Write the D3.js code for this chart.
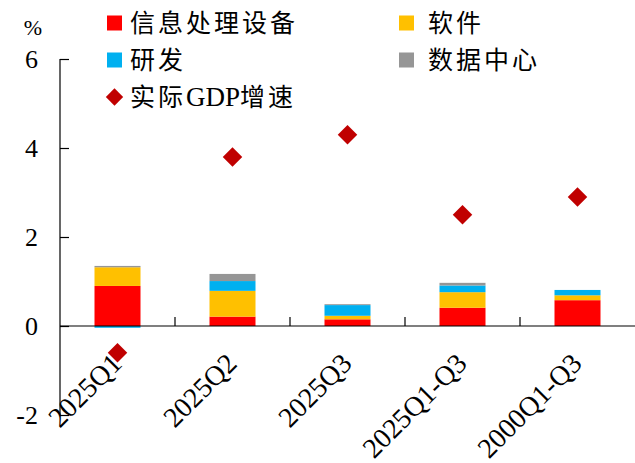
<!DOCTYPE html>
<html><head><meta charset="utf-8">
<script src="https://cdn.jsdelivr.net/npm/d3@7"></script>
<style>
html,body{margin:0;padding:0;background:#fff;}
svg{display:block;}
text{font-family:"Liberation Serif","Times New Roman","Noto Sans CJK SC",serif;}
</style></head>
<body>
<script>
const categories = ["2025Q1","2025Q2","2025Q3","2025Q1-Q3","2000Q1-Q3"];
const infoEquip = [0.90, 0.21, 0.15, 0.41, 0.58];
const software  = [0.42, 0.58, 0.08, 0.35, 0.11];
const rnd       = [-0.04, 0.22, 0.24, 0.15, 0.12];
const dataCenter= [0.03, 0.16, 0.02, 0.06, 0.00];
const gdp       = [-0.6, 3.8, 4.3, 2.5, 2.9];
const yTicks = [-2, 0, 2, 4, 6];
const seriesNames = ["信息处理设备","软件","研发","数据中心","实际GDP增速"];
const colors = ["#FF0000","#FFC000","#00B0F0","#969696","#C00000"];

const W = 635, H = 463;
const svg = d3.select("body").append("svg").attr("width", W).attr("height", H);

const x = d3.scaleBand().domain(categories).range([60, 635]).padding(0);
const y = d3.scaleLinear().domain([-2, 6]).range([415, 59]);

// stacked bars
const seriesVals = [infoEquip, software, rnd, dataCenter];
const barW = x.bandwidth() * 0.4;
categories.forEach((c, i) => {
  let pos = 0, neg = 0;
  seriesVals.forEach((arr, s) => {
    const v = arr[i];
    if (v === 0) return;
    let y0, y1;
    if (v > 0) { y0 = pos; y1 = pos + v; pos = y1; }
    else { y0 = neg; y1 = neg + v; neg = y1; }
    svg.append("rect")
      .attr("x", x(c) + x.bandwidth()/2 - barW/2)
      .attr("width", barW)
      .attr("y", y(Math.max(y0, y1)))
      .attr("height", Math.abs(y(y0) - y(y1)))
      .attr("fill", colors[s]);
  });
});

// y axis
const yAxis = d3.axisRight(y).tickValues(yTicks).tickSize(9).tickFormat("");
const gy = svg.append("g").attr("transform", "translate(60,0)").call(yAxis);
gy.select(".domain").attr("stroke", "#000").attr("stroke-width", 1.2).attr("d", `M0,${y(6)}V${y(-2)}`);
gy.selectAll(".tick line").attr("stroke", "#000").attr("stroke-width", 1.2);
svg.append("g").selectAll("text").data(yTicks).join("text")
  .attr("x", 38).attr("y", d => y(d)).attr("dy", "0.35em")
  .attr("text-anchor", "end").attr("font-size", 26).attr("fill", "#000")
  .text(d => d);
svg.append("text").attr("x", 33).attr("y", 35).attr("text-anchor", "middle")
  .attr("font-size", 22).text("%");

// x axis
const xAxis = d3.axisBottom(x).tickSize(0).tickFormat("");
const gx = svg.append("g").attr("transform", `translate(0,${y(0)})`).call(xAxis);
gx.select(".domain").attr("stroke", "#000").attr("stroke-width", 1.2).attr("d", `M60,0H635`);
const bounds = categories.slice(1).map(c => x(c));
svg.append("g").selectAll("line").data(bounds).join("line")
  .attr("x1", d => d).attr("x2", d => d)
  .attr("y1", y(0)).attr("y2", y(0) - 9)
  .attr("stroke", "#000").attr("stroke-width", 1.2);

// x labels rotated
svg.append("g").selectAll("text").data(categories).join("text")
  .attr("transform", d => `translate(${x(d) + x.bandwidth()/2 + 6},${y(0) + 39}) rotate(-45)`)
  .attr("text-anchor", "end")
  .attr("font-size", 28).attr("fill", "#000")
  .text(d => d);

// GDP diamonds
const dia = d3.symbol().type(d3.symbolSquare).size(190);
svg.append("g").selectAll("path").data(gdp).join("path")
  .attr("d", dia())
  .attr("transform", (d, i) => `translate(${x(categories[i]) + x.bandwidth()/2},${y(d)}) rotate(45)`)
  .attr("fill", colors[4]);

// legend
const legendItems = [
  {name: seriesNames[0], color: colors[0], x: 107, y: 23, type: "sq"},
  {name: seriesNames[1], color: colors[1], x: 399, y: 23, type: "sq"},
  {name: seriesNames[2], color: colors[2], x: 107, y: 60, type: "sq"},
  {name: seriesNames[3], color: colors[3], x: 399, y: 60, type: "sq"},
  {name: seriesNames[4], color: colors[4], x: 107, y: 97, type: "dia"}
];
const lg = svg.append("g");
legendItems.forEach(it => {
  if (it.type === "sq") {
    lg.append("rect").attr("x", it.x).attr("y", it.y - 7.5).attr("width", 15).attr("height", 15).attr("fill", it.color);
  } else {
    lg.append("path").attr("d", d3.symbol().type(d3.symbolSquare).size(150)())
      .attr("transform", `translate(${it.x + 7.5},${it.y}) rotate(45)`).attr("fill", it.color);
  }
  const t = lg.append("text").attr("x", it.x + (it.x > 300 ? 29 : 23)).attr("y", it.y).attr("dy", "0.36em")
    .attr("font-size", 25).attr("fill", "#000");
  // split Latin runs from CJK so only CJK gets extra spacing
  const parts = it.name.match(/[A-Za-z0-9]+|[^A-Za-z0-9]+/g);
  parts.forEach(p => {
    const latin = /^[A-Za-z0-9]+$/.test(p);
    t.append("tspan").attr("letter-spacing", latin ? "0px" : "3px")
      .attr("font-size", latin ? 27 : 25).text(p);
  });
});
</script>
</body></html>
